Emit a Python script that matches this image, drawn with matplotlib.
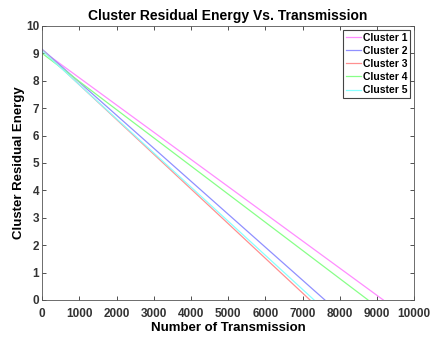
import matplotlib
matplotlib.use("Agg")
import matplotlib.pyplot as plt

# values (start energy at x=0, transmissions where energy hits 0)
transmission_1 = [0, 9170]
energy_1 = [9.10, 0]
transmission_2 = [0, 7600]
energy_2 = [9.15, 0]
transmission_3 = [0, 7200]
energy_3 = [9.12, 0]
transmission_4 = [0, 8760]
energy_4 = [9.00, 0]
transmission_5 = [0, 7310]
energy_5 = [9.10, 0]

labels = ["Cluster 1", "Cluster 2", "Cluster 3", "Cluster 4", "Cluster 5"]
colors = ["#ff8cff", "#9090ff", "#ff9090", "#88ff88", "#88ffff"]

plt.rcParams["font.family"] = ["Liberation Sans", "DejaVu Sans"]
plt.rcParams["font.weight"] = "bold"

fig = plt.figure(figsize=(4.3, 3.37), dpi=100)
ax = fig.add_axes([0.098, 0.110, 0.865, 0.813])

series = [
    (transmission_1, energy_1),
    (transmission_2, energy_2),
    (transmission_3, energy_3),
    (transmission_4, energy_4),
    (transmission_5, energy_5),
]
for (x, y), lab, c in zip(series, labels, colors):
    ax.plot(x, y, color=c, lw=0.9, label=lab)

ax.set_xlim(0, 10000)
ax.set_ylim(0, 10)
ax.set_xticks(range(0, 10001, 1000))
ax.set_yticks(range(0, 11))
ax.tick_params(direction="in", top=True, right=True, length=3, width=0.6,
               labelsize=8.5, colors="#333333", pad=2)
ax.tick_params(axis="x", pad=6)
for lbl in ax.get_xticklabels() + ax.get_yticklabels():
    lbl.set_fontweight("bold")
for sp in ax.spines.values():
    sp.set_color("#555555")
    sp.set_linewidth(0.6)

ax.set_title("Cluster Residual Energy Vs. Transmission", fontsize=10,
             fontweight="bold", pad=4)
ax.set_xlabel("Number of Transmission", fontsize=9.5, fontweight="bold", labelpad=1)
ax.set_ylabel("Cluster Residual Energy", fontsize=9.5, fontweight="bold", labelpad=1)

leg = ax.legend(loc="upper right", fontsize=7.5, handlelength=1.5,
                handletextpad=0.15, borderpad=0.3, labelspacing=0.3,
                fancybox=False, framealpha=1, borderaxespad=0.35)
leg.get_frame().set_edgecolor("#444444")
leg.get_frame().set_linewidth(0.8)

fig.savefig("out.png", dpi=100)
